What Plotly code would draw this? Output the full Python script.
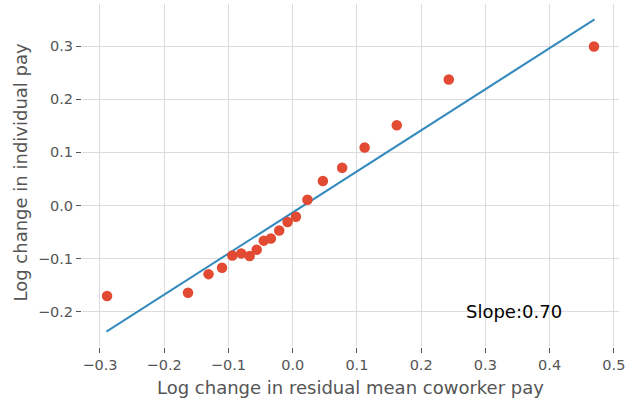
import plotly.graph_objects as go

x_vals = [-0.289, -0.163, -0.131, -0.110, -0.094, -0.080, -0.067, -0.056, -0.045, -0.034,
          -0.021, -0.008, 0.005, 0.023, 0.047, 0.077, 0.112, 0.162, 0.243, 0.469]
y_vals = [-0.170, -0.164, -0.129, -0.117, -0.094, -0.090, -0.095, -0.083, -0.066, -0.062,
          -0.047, -0.031, -0.021, 0.011, 0.046, 0.071, 0.109, 0.151, 0.237, 0.299]

fit_x = [-0.290, 0.470]
fit_y = [-0.237, 0.350]

x_ticks = [-0.3, -0.2, -0.1, 0.0, 0.1, 0.2, 0.3, 0.4, 0.5]
y_ticks = [-0.2, -0.1, 0.0, 0.1, 0.2, 0.3]

x_title = "Log change in residual mean coworker pay"
y_title = "Log change in individual pay"
slope_label = "Slope:0.70"

fig = go.Figure()
fig.add_trace(go.Scatter(x=fit_x, y=fit_y, mode="lines",
                         line=dict(color="#348ABD", width=2), showlegend=False))
fig.add_trace(go.Scatter(x=x_vals, y=y_vals, mode="markers",
                         marker=dict(color="#E24A33", size=10.5, line=dict(width=0)),
                         showlegend=False))

fig.add_annotation(x=0.267, y=-0.2, text=slope_label, showarrow=False,
                   xanchor="left", yanchor="middle",
                   font=dict(family="DejaVu Sans", size=18, color="black"))

title_font = dict(family="DejaVu Sans", size=18, color="#555555")
fig.add_annotation(xref="paper", yref="paper", x=0.5, y=0, yshift=-40,
                   text=x_title, showarrow=False, xanchor="center", yanchor="middle",
                   font=title_font)
fig.add_annotation(xref="paper", yref="paper", x=0, y=0.5, xshift=-62, yshift=3,
                   text=y_title, showarrow=False, textangle=-90,
                   xanchor="center", yanchor="middle", font=title_font)

axis_common = dict(showgrid=True, gridcolor="#dcdcdc", gridwidth=1, zeroline=False,
                   showline=False, ticks="outside", ticklen=5, tickwidth=1,
                   tickcolor="#555555", automargin=False,
                   tickfont=dict(family="DejaVu Sans", size=14.5, color="#555555"))

fig.update_xaxes(range=[-0.328, 0.508], tickvals=x_ticks, tickformat=".1f", **axis_common)
fig.update_yaxes(range=[-0.266, 0.379], tickvals=y_ticks, tickformat=".1f", **axis_common)

fig.update_layout(width=626, height=405, plot_bgcolor="white", paper_bgcolor="white",
                  margin=dict(l=82, r=7, t=4, b=58))

fig.write_html("out.html", config={"displayModeBar": False},
               post_script="document.body.style.margin='0';document.body.style.overflow='hidden';")
